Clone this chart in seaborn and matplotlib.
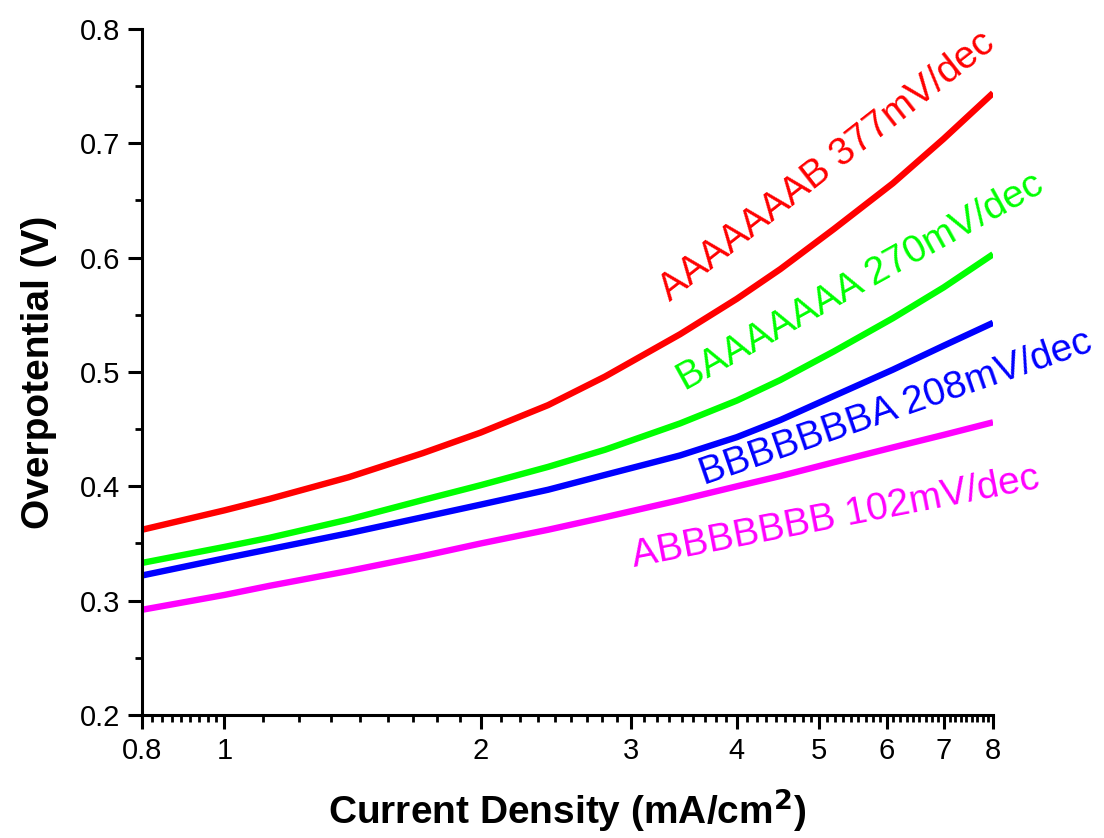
import numpy as np
import pandas as pd
import matplotlib
matplotlib.use("Agg")
import matplotlib.pyplot as plt
import matplotlib.ticker as mticker
import seaborn as sns

# ---- data ----
current = [0.8, 1.0, 1.13, 1.4, 1.71, 2.0, 2.4, 2.8, 3.43, 4.0, 4.5, 5.2, 6.1, 7.0, 8.0]
red_vals = [0.362, 0.379, 0.389, 0.408, 0.429, 0.447, 0.471, 0.496, 0.533,
            0.564, 0.590, 0.625, 0.665, 0.704, 0.744]
green_vals = [0.333, 0.347, 0.355, 0.371, 0.388, 0.401, 0.417, 0.432, 0.455,
              0.475, 0.493, 0.518, 0.547, 0.574, 0.603]
blue_vals = [0.322, 0.337, 0.345, 0.359, 0.373, 0.384, 0.397, 0.410, 0.427,
             0.443, 0.458, 0.479, 0.502, 0.523, 0.543]
magenta_vals = [0.292, 0.305, 0.313, 0.326, 0.339, 0.350, 0.362, 0.373, 0.388,
                0.400, 0.409, 0.421, 0.434, 0.445, 0.456]

series_names = ["AAAAAAAB", "BAAAAAAA", "BBBBBBBA", "ABBBBBBB"]
slopes = ["377mV/dec", "270mV/dec", "208mV/dec", "102mV/dec"]
colors = ["#ff0000", "#00ff00", "#0000ff", "#ff00ff"]
x_ticks = [0.8, 1, 2, 3, 4, 5, 6, 7, 8]
x_tick_labels = ["0.8", "1", "2", "3", "4", "5", "6", "7", "8"]
y_ticks = [0.2, 0.3, 0.4, 0.5, 0.6, 0.7, 0.8]

df = pd.DataFrame({
    "Current": current * 4,
    "Overpotential": red_vals + green_vals + blue_vals + magenta_vals,
    "Sample": sum([[n] * len(current) for n in series_names], []),
})

sns.set_style("ticks")
plt.rcParams["font.family"] = ["Liberation Sans", "DejaVu Sans"]
plt.rcParams["text.color"] = "black"
plt.rcParams["axes.labelcolor"] = "black"

fig = plt.figure(figsize=(11.04, 8.38), dpi=100)
ax = fig.add_axes([0.1286, 0.1468, 0.8995 - 0.1286, 0.9654 - 0.1468])

sns.lineplot(data=df, x="Current", y="Overpotential", hue="Sample",
             hue_order=series_names, palette=colors, linewidth=4.6,
             legend=False, ax=ax, sort=True)
for ln in ax.get_lines():
    ln.set_solid_joinstyle("round")
    ln.set_solid_capstyle("butt")

ax.set_xscale("log")
ax.set_xlim(0.8, 8)
ax.set_ylim(0.2, 0.8)
ax.set_xticks(x_ticks)
ax.set_xticklabels(x_tick_labels)
ax.set_yticks(y_ticks)
ax.yaxis.set_major_formatter(mticker.FormatStrFormatter("%.1f"))

# minor ticks: 8 linear subdivisions between major ticks (Origin style)
minors = []
for a, b in zip(x_ticks[:-1], x_ticks[1:]):
    minors.extend(np.linspace(a, b, 10)[1:-1])
ax.xaxis.set_minor_locator(mticker.FixedLocator(minors))
ax.xaxis.set_minor_formatter(mticker.NullFormatter())
ax.yaxis.set_minor_locator(mticker.MultipleLocator(0.05))

for s in ["top", "right"]:
    ax.spines[s].set_visible(False)
for s in ["left", "bottom"]:
    ax.spines[s].set_linewidth(2.2)
    ax.spines[s].set_color("black")

ax.tick_params(axis="both", which="major", direction="out", length=10,
               width=2.2, labelsize=21, colors="black", pad=6)
ax.tick_params(axis="both", which="minor", direction="out", length=5,
               width=2.0, colors="black")

ax.set_xlabel("Current Density (mA/cm$^\\mathbf{2}$)", fontsize=28,
              fontweight="bold", labelpad=15, color="black")
ax.set_ylabel("Overpotential (V)", fontsize=28, fontweight="bold",
              labelpad=16, color="black")

# rotated annotations
label_pos = [(3.34, 0.561, 38), (3.48, 0.483, 29), (3.66, 0.401, 19), (3.03, 0.329, 11)]
for name, slope, col, (lx, ly, rot) in zip(series_names, slopes, colors, label_pos):
    ax.text(lx, ly, f"{name} {slope}", color=col, fontsize=28, rotation=rot,
            rotation_mode="anchor", ha="left", va="baseline", clip_on=False)

fig.savefig("out.png", dpi=100, facecolor="white")
